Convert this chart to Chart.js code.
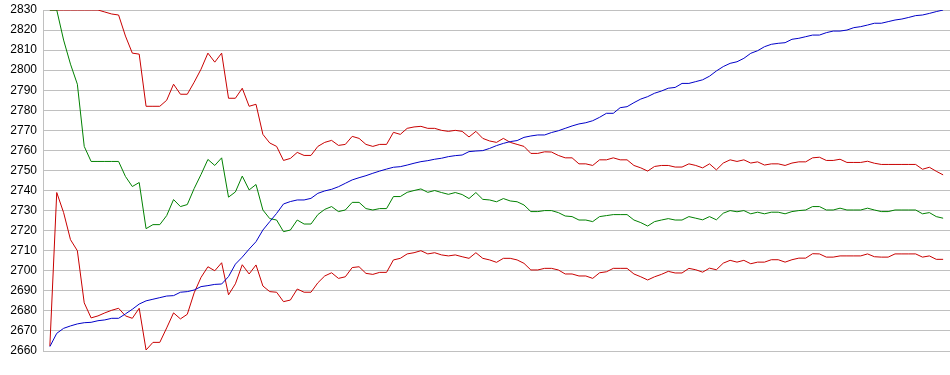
<!DOCTYPE html>
<html>
<head>
<meta charset="utf-8">
<script src="https://cdn.jsdelivr.net/npm/chart.js@4.4.1/dist/chart.umd.min.js"></script>
<style>
  html, body { margin: 0; padding: 0; background: #fff; }
  #wrap { width: 950px; height: 375px; position: relative; }
</style>
</head>
<body>
<div id="wrap"><canvas id="bandChart"></canvas></div>
<script>
  // Bollinger-style chart: price with middle line and upper/lower bands
  const upperBand = [
    2830, 2830, 2830, 2830, 2830, 2830, 2830, 2830, 2829, 2828,
    2827.5, 2817, 2808.5, 2808, 2782, 2782, 2782, 2785, 2793, 2788,
    2788, 2794, 2800.5, 2808.5, 2804, 2808.5, 2786, 2786, 2791, 2782,
    2783, 2768, 2763.7, 2762, 2755, 2756, 2759, 2757.5, 2757.5, 2762,
    2764, 2765, 2762.5, 2763, 2767, 2766, 2763, 2762, 2763, 2763,
    2769, 2768, 2771, 2771.7, 2772, 2771, 2771, 2770, 2769.5, 2770,
    2769.5, 2766.7, 2769.5, 2766, 2764.7, 2764, 2766, 2764, 2763, 2762,
    2758.5, 2758.5, 2759.3, 2759.2, 2757.5, 2756.3, 2756.3, 2753.3, 2753.3, 2752.5,
    2755.3, 2755.3, 2756.3, 2755.3, 2755.3, 2752.5, 2751.3, 2749.7, 2752, 2752.5,
    2752.5, 2751.7, 2751.7, 2753.3, 2752.5, 2751.3, 2753.3, 2750.3, 2753.7, 2755.3,
    2754.5, 2755.3, 2753.7, 2754.3, 2752.7, 2753.3, 2753.3, 2752.5, 2753.7, 2754.3,
    2754.3, 2756.3, 2756.6, 2755, 2755, 2755.6, 2754, 2754, 2754, 2754.6,
    2753.6, 2753, 2753, 2753, 2753, 2753, 2753, 2750.6, 2751.6, 2749.6,
    2747.8
  ];
  const middleBand = [
    2830, 2830, 2815, 2803, 2793, 2762, 2754.5, 2754.5, 2754.5, 2754.5,
    2754.5, 2747, 2742, 2744, 2721, 2723, 2723, 2727.5, 2735.5, 2732,
    2733, 2741, 2748, 2755.5, 2752.5, 2756.3, 2736.7, 2739.3, 2747.2, 2740.3,
    2743, 2730.3, 2726, 2725.3, 2719.5, 2720.3, 2725.3, 2723.3, 2723.3, 2728,
    2730.6, 2732, 2729.5, 2730.3, 2734.1, 2734.1, 2731, 2730.3, 2731, 2731,
    2737, 2737, 2739.1, 2740, 2740.8, 2739.1, 2740, 2739, 2738.1, 2739,
    2738, 2736, 2739, 2735.6, 2735.3, 2734.4, 2736, 2734.8, 2734.4, 2732.8,
    2729.5, 2729.5, 2730, 2730, 2729, 2727.3, 2727, 2725.3, 2725.3, 2724.5,
    2727, 2727.5, 2728, 2728, 2728, 2725.3, 2724, 2722.3, 2724.5, 2725.3,
    2726, 2725.3, 2725.3, 2727, 2726.2, 2725.4, 2727, 2725.4, 2728.7, 2730,
    2729.4, 2730, 2728.4, 2729.2, 2728.4, 2729.2, 2729.2, 2728.4, 2729.5, 2730,
    2730.3, 2732, 2732, 2730.3, 2730.3, 2731.2, 2730.3, 2730.3, 2730.3, 2731.2,
    2730.3, 2729.5, 2729.5, 2730.3, 2730.3, 2730.3, 2730.3, 2728.4, 2729, 2727,
    2726.2
  ];
  const lowerBand = [
    2662.5, 2739, 2729, 2715.5, 2710, 2684, 2676.5, 2677.5, 2679, 2680.3,
    2681.3, 2677.5, 2676.3, 2681.3, 2660.5, 2664.3, 2664.3, 2671.5, 2679, 2676,
    2678.3, 2689, 2696.7, 2702, 2700, 2704, 2688, 2693.5, 2703, 2698.4,
    2702.9, 2692.4, 2689.6, 2689.3, 2684.6, 2685.4, 2690.9, 2689.3, 2689.3, 2694,
    2697.4, 2699, 2696.2, 2697, 2701.6, 2702, 2698.7, 2698.2, 2699.2, 2699.2,
    2705.4, 2706.2, 2708.4, 2709, 2710, 2708.4, 2709, 2707.9, 2707.4, 2707.9,
    2707, 2706.2, 2709, 2706.2, 2705.4, 2704.2, 2706.2, 2706.2, 2705.4, 2703.7,
    2700.4, 2700.4, 2701.2, 2701.2, 2700.4, 2698.4, 2698.4, 2697.4, 2697.4, 2696.2,
    2699, 2699.5, 2701.2, 2701.2, 2701.2, 2698.4, 2697, 2695.4, 2697, 2698.2,
    2699.7, 2698.9, 2698.9, 2701.2, 2700.5, 2699.3, 2701.3, 2700.5, 2703.8, 2705.2,
    2704.3, 2705.2, 2703.5, 2704.3, 2704.3, 2705.5, 2705.5, 2704.3, 2705.5, 2706.3,
    2706.3, 2708.5, 2708.4, 2706.8, 2706.8, 2707.4, 2707.4, 2707.4, 2707.4, 2708.4,
    2707, 2706.8, 2706.8, 2708.4, 2708.4, 2708.4, 2708.4, 2706.8, 2707.4, 2705.7,
    2705.7
  ];
  const price = [
    2662.2, 2668.8, 2671.3, 2672.5, 2673.5, 2674.1, 2674.3, 2675.1, 2675.5, 2676.3,
    2676.3, 2678.5, 2680.8, 2683.4, 2685, 2685.8, 2686.6, 2687.4, 2687.6, 2689.3,
    2689.6, 2690.4, 2692.1, 2692.6, 2693.2, 2693.4, 2697.1, 2703.3, 2706.8, 2710.8,
    2714.5, 2720.3, 2724.5, 2728.6, 2733.3, 2734.5, 2735.3, 2735.3, 2736.1, 2738.6,
    2739.8, 2740.6, 2741.9, 2743.6, 2745.3, 2746.4, 2747.4, 2748.6, 2749.7, 2750.7,
    2751.6, 2751.9, 2752.7, 2753.6, 2754.4, 2754.9, 2755.6, 2756.1, 2756.9, 2757.4,
    2757.7, 2759.4, 2759.7, 2759.9, 2761, 2762.4, 2763.5, 2764.4, 2764.9, 2766.5,
    2767.2, 2767.7, 2767.7, 2768.9, 2769.8, 2771, 2772.2, 2773.2, 2773.8, 2774.8,
    2776.5, 2778.5, 2778.5, 2781.3, 2781.8, 2783.8, 2785.6, 2786.8, 2788.5, 2789.6,
    2791, 2791.4, 2793.4, 2793.4, 2794.3, 2795.2, 2797, 2799.6, 2801.8, 2803.4,
    2804.2, 2805.9, 2808.4, 2809.7, 2811.7, 2812.9, 2813.4, 2813.7, 2815.4, 2815.9,
    2816.7, 2817.5, 2817.5, 2818.7, 2819.5, 2819.5, 2820, 2821.2, 2821.7, 2822.5,
    2823.4, 2823.4, 2824.2, 2825, 2825.5, 2826.3, 2827.2, 2827.5, 2828.3, 2829.2,
    2830
  ];
  const yMin = 2660;
  const yMax = 2830;
  const yStep = 10;

  const colors = { upper: '#c80000', middle: '#008000', lower: '#c80000', price: '#0000c8', grid: '#c0c0c0' };

  const toPoints = arr => arr.map((v, i) => ({ x: i, y: v }));

  function lineSet(label, data, color) {
    return {
      label: label,
      data: toPoints(data),
      borderColor: color,
      backgroundColor: color,
      borderWidth: 1,
      pointRadius: 0,
      tension: 0,
      fill: false
    };
  }

  const ctx = document.getElementById('bandChart').getContext('2d');
  const bandChart = new Chart(ctx, {
    type: 'line',
    data: {
      datasets: [
        lineSet('Price', price, colors.price),
        lineSet('Middle', middleBand, colors.middle),
        lineSet('Lower', lowerBand, colors.lower),
        lineSet('Upper', upperBand, colors.upper)
      ]
    },
    options: {
      responsive: true,
      maintainAspectRatio: false,
      animation: false,
      layout: { padding: { top: 10, right: 0, bottom: 24, left: 0 } },
      plugins: {
        legend: { display: false },
        tooltip: { enabled: false }
      },
      scales: {
        x: {
          type: 'linear',
          display: false,
          min: -1,
          max: price.length
        },
        y: {
          min: yMin,
          max: yMax,
          afterFit: scale => {
            scale.width = 43;
            // keep the plot edges on the layout padding only
            scale.paddingTop = 0;
            scale.paddingBottom = 0;
          },
          ticks: {
            stepSize: yStep,
            padding: 6,
            color: '#000',
            font: { family: '"Liberation Sans", Arial, sans-serif', size: 12 },
            callback: v => String(v)
          },
          grid: {
            color: colors.grid,
            lineWidth: 1,
            drawTicks: false
          },
          border: { display: true, color: colors.grid, width: 1 }
        }
      }
    }
  });
</script>
</body>
</html>
